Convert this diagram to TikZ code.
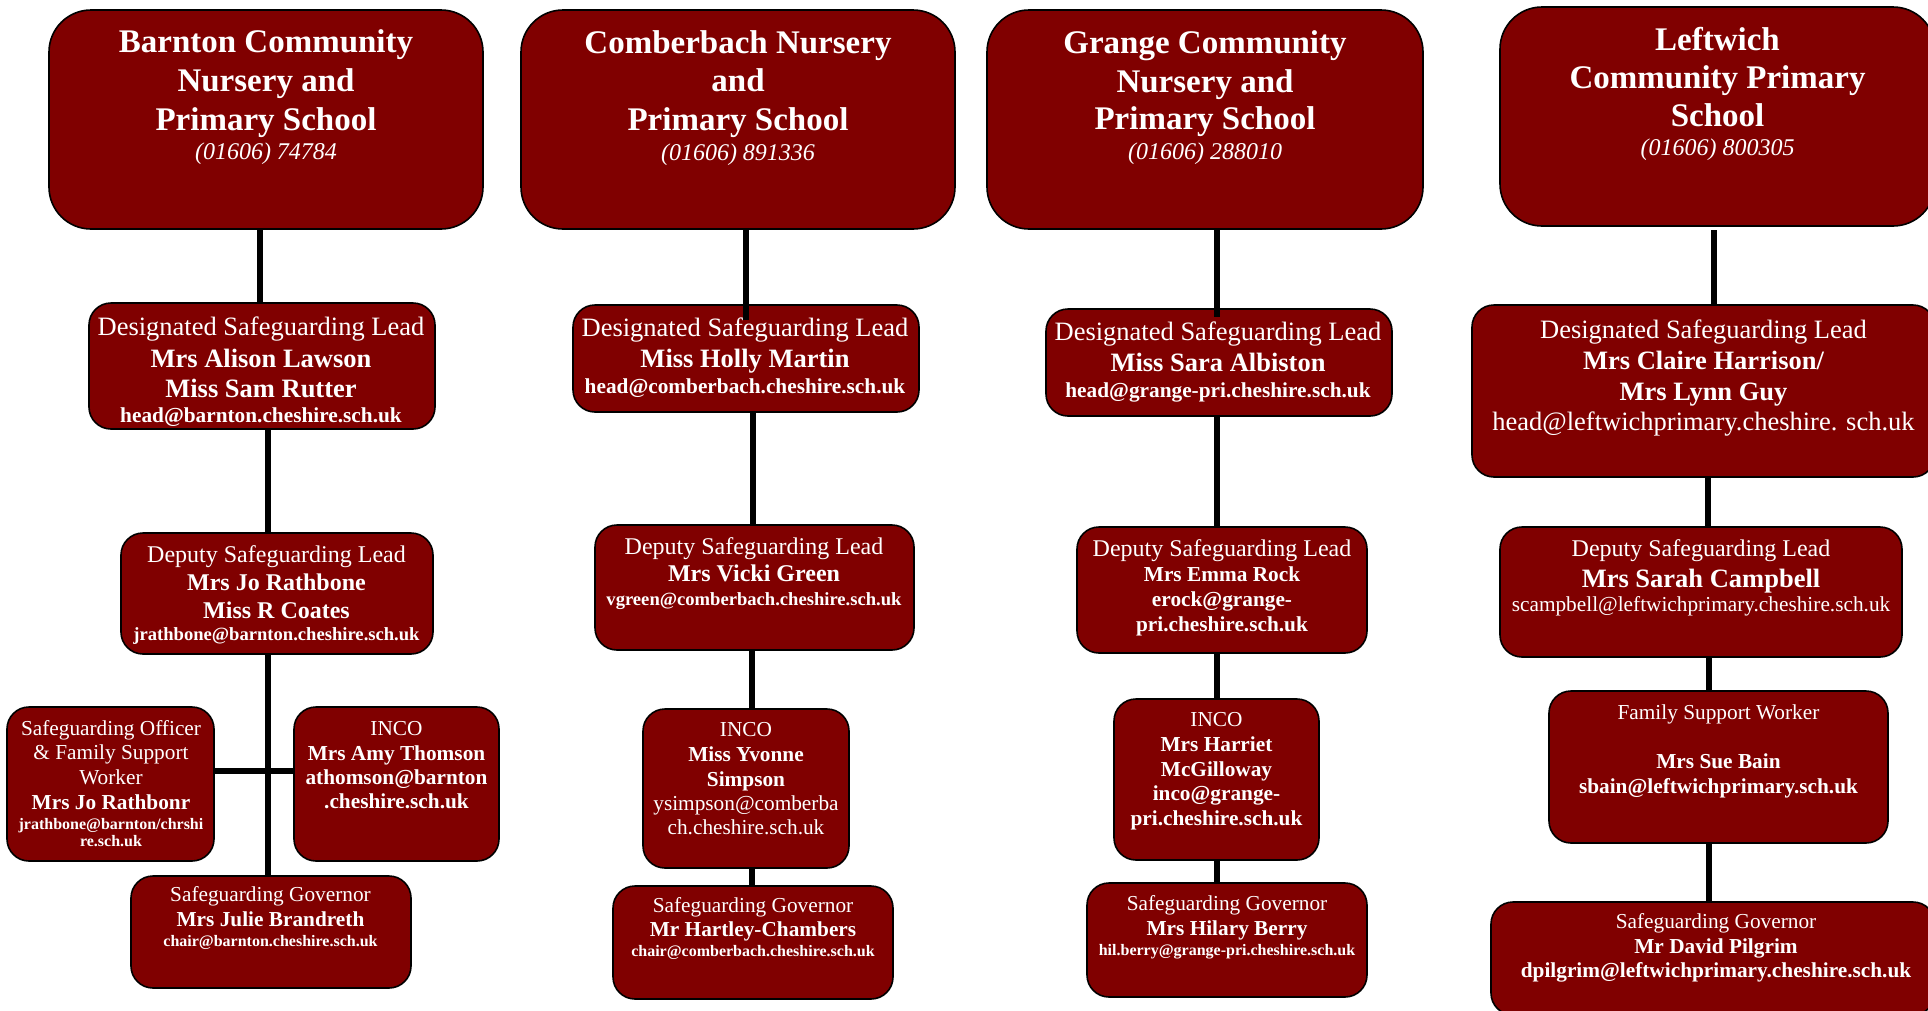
\documentclass[tikz,border=0pt]{standalone}
\usepackage{fontspec}
\setmainfont{Liberation Serif}
\definecolor{boxred}{RGB}{128,0,0}
\tikzset{
  box/.style={draw=black, line width=1.6pt, fill=boxred, rounded corners=22pt,
    inner sep=0pt, outer sep=0pt, anchor=north west},
  bigbox/.style={box, rounded corners=42pt},
  conn/.style={draw=black, line width=6pt},
  txt/.style={text=white, anchor=base, inner sep=0pt, outer sep=0pt},
  ttl/.style={txt, font=\fontsize{33}{40}\selectfont\bfseries},
  ph/.style={txt, font=\fontsize{24}{29}\selectfont\itshape},
  rA/.style={txt, font=\fontsize{26.5}{32}\selectfont},
  bA/.style={txt, font=\fontsize{26.5}{32}\selectfont\bfseries},
  rB/.style={txt, font=\fontsize{24}{29}\selectfont},
  bB/.style={txt, font=\fontsize{24}{29}\selectfont\bfseries},
  rC/.style={txt, font=\fontsize{21.3}{26}\selectfont},
  bC/.style={txt, font=\fontsize{21.3}{26}\selectfont\bfseries},
  eD/.style={txt, font=\fontsize{18.6}{22}\selectfont\bfseries},
  eE/.style={txt, font=\fontsize{16}{19}\selectfont\bfseries},
}
\newcommand\tx[5]{\node[#1] (#2) at (#3,#4) {#5};}
\begin{document}
\begin{tikzpicture}[x=1pt,y=-1pt]
\fill[white] (0,0) rectangle (1928,1010);
\useasboundingbox (0,0) rectangle (1928,1010);

% ---------- boxes ----------
% column 1
\node[bigbox, minimum width=434pt, minimum height=219pt] (c1t) at (49,10) {};
\node[box, minimum width=346pt, minimum height=126pt] (c1d) at (89,303) {};
\node[box, minimum width=312pt, minimum height=121pt] (c1p) at (121,533) {};
\node[box, minimum width=207pt, minimum height=154pt] (c1s) at (7,707) {};
\node[box, minimum width=205pt, minimum height=154pt] (c1i) at (294,707) {};
\node[box, minimum width=280pt, minimum height=112pt] (c1g) at (131,876) {};
% column 2
\node[bigbox, minimum width=434pt, minimum height=219pt] (c2t) at (521,10) {};
\node[box, minimum width=346pt, minimum height=107pt] (c2d) at (573,305) {};
\node[box, minimum width=319pt, minimum height=125pt] (c2p) at (595,525) {};
\node[box, minimum width=206pt, minimum height=159pt] (c2i) at (643,709) {};
\node[box, minimum width=280pt, minimum height=113pt] (c2g) at (613,886) {};
% column 3
\node[bigbox, minimum width=436pt, minimum height=219pt] (c3t) at (987,10) {};
\node[box, minimum width=346pt, minimum height=107pt] (c3d) at (1046,309) {};
\node[box, minimum width=290pt, minimum height=126pt] (c3p) at (1077,527) {};
\node[box, minimum width=205pt, minimum height=161pt] (c3i) at (1114,699) {};
\node[box, minimum width=280pt, minimum height=114pt] (c3g) at (1087,883) {};
% column 4
\node[bigbox, minimum width=435pt, minimum height=219pt] (c4t) at (1500,7) {};
\node[box, minimum width=463pt, minimum height=172pt] (c4d) at (1472,305) {};
\node[box, minimum width=402pt, minimum height=130pt] (c4p) at (1500,527) {};
\node[box, minimum width=339pt, minimum height=152pt] (c4f) at (1549,691) {};
\node[box, minimum width=444pt, minimum height=113pt] (c4g) at (1491,902) {};

% ---------- connectors ----------
% column 1
\draw[conn] ([xshift=-6pt]c1t.south) -- ([xshift=-6pt]c1t.south |- c1d.north);
\draw[conn] ([xshift=6pt]c1d.south) -- ([xshift=6pt]c1d.south |- c1p.north);
\draw[conn] ([xshift=-9pt]c1p.south) -- ([xshift=-9pt]c1p.south |- c1g.north);
\draw[conn] ([yshift=13pt]c1s.east) -- ([yshift=13pt]c1s.east -| c1i.west);
% column 2
\coordinate (k2a) at ([xshift=8pt]c2t.south);
\draw[conn] (k2a) -- (k2a |- c2d.north) -- ++(0,15);
\draw[conn] ([xshift=7pt]c2d.south) -- ([xshift=7pt]c2d.south |- c2p.north);
\draw[conn] ([xshift=-2.5pt]c2p.south) -- ([xshift=-2.5pt]c2p.south |- c2i.north);
\draw[conn] ([xshift=6pt]c2i.south) -- ([xshift=6pt]c2i.south |- c2g.north);
% column 3
\coordinate (k3a) at ([xshift=12pt]c3t.south);
\draw[conn] (k3a) -- (k3a |- c3d.north) -- ++(0,8);
\draw[conn] ([xshift=-2pt]c3d.south) -- ([xshift=-2pt]c3d.south |- c3p.north);
\draw[conn] ([xshift=-5pt]c3p.south) -- ([xshift=-5pt]c3p.south |- c3i.north);
\draw[conn] ([xshift=0.5pt]c3i.south) -- ([xshift=0.5pt]c3i.south |- c3g.north);
% column 4
\draw[conn] ([xshift=-3.5pt,yshift=-4pt]c4t.south) -- ([xshift=-3.5pt]c4t.south |- c4d.north);
\draw[conn] ([xshift=4.5pt]c4d.south) -- ([xshift=4.5pt]c4d.south |- c4p.north);
\draw[conn] ([xshift=8pt]c4p.south) -- ([xshift=8pt]c4p.south |- c4f.north);
\draw[conn] ([xshift=-9.5pt]c4f.south) -- ([xshift=-9.5pt]c4f.south |- c4g.north);

% ---------- texts ----------
% column 1
\tx{ttl}{c1ta}{266}{52.7}{Barnton Community}
\tx{ttl}{c1tb}{266}{91.7}{Nursery and}
\tx{ttl}{c1tc}{266}{130}{Primary School}
\tx{ph}{c1td}{266}{159.3}{(01606) 74784}
\tx{rA}{c1da}{261}{335}{Designated Safeguarding Lead}
\tx{bA}{c1db}{261}{367}{Mrs Alison Lawson}
\tx{bA}{c1dc}{261}{397}{Miss Sam Rutter}
\tx{bC}{c1dd}{261}{422}{head@barnton.cheshire.sch.uk}
\tx{rB}{c1pa}{276.5}{562.7}{Deputy Safeguarding Lead}
\tx{bB}{c1pb}{276.5}{590}{Mrs Jo Rathbone}
\tx{bB}{c1pc}{276.5}{618}{Miss R Coates}
\tx{eD}{c1pd}{276.5}{640.7}{jrathbone@barnton.cheshire.sch.uk}
\tx{rC}{c1sa}{111}{735}{Safeguarding Officer}
\tx{rC}{c1sb}{111}{759.3}{\& Family Support}
\tx{rC}{c1sc}{111}{784}{Worker}
\tx{bC}{c1sd}{111}{809.3}{Mrs Jo Rathbonr}
\tx{eE}{c1se}{111}{829.3}{jrathbone@barnton/chrshi}
\tx{eE}{c1sf}{111}{846.7}{re.sch.uk}
\tx{rC}{c1ia}{396.5}{735}{INCO}
\tx{bC}{c1ib}{396.5}{760}{Mrs Amy Thomson}
\tx{bC}{c1ic}{396.5}{784}{athomson@barnton}
\tx{bC}{c1id}{396.5}{808.3}{.cheshire.sch.uk}
\tx{rC}{c1ga}{270.5}{901.7}{Safeguarding Governor}
\tx{bC}{c1gb}{270.5}{926.7}{Mrs Julie Brandreth}
\tx{eE}{c1gc}{270.5}{946.7}{chair@barnton.cheshire.sch.uk}
% column 2
\tx{ttl}{c2ta}{738}{53.3}{Comberbach Nursery}
\tx{ttl}{c2tb}{738}{91.7}{and}
\tx{ttl}{c2tc}{738}{130}{Primary School}
\tx{ph}{c2td}{738}{160}{(01606) 891336}
\tx{rA}{c2da}{745}{336}{Designated Safeguarding Lead}
\tx{bA}{c2db}{745}{367}{Miss Holly Martin}
\tx{bC}{c2dc}{745}{393}{head@comberbach.cheshire.sch.uk}
\tx{rB}{c2pa}{754}{554}{Deputy Safeguarding Lead}
\tx{bB}{c2pb}{754}{581.7}{Mrs Vicki Green}
\tx{eD}{c2pc}{754}{605}{vgreen@comberbach.cheshire.sch.uk}
\tx{rC}{c2ia}{746}{736.7}{INCO}
\tx{bC}{c2ib}{746}{761.7}{Miss Yvonne}
\tx{bC}{c2ic}{746}{786}{Simpson}
\tx{rC}{c2id}{746}{810}{ysimpson@comberba}
\tx{rC}{c2ie}{746}{834}{ch.cheshire.sch.uk}
\tx{rC}{c2ga}{753}{912.7}{Safeguarding Governor}
\tx{bC}{c2gb}{753}{936.7}{Mr Hartley-Chambers}
\tx{eE}{c2gc}{753}{956.7}{chair@comberbach.cheshire.sch.uk}
% column 3
\tx{ttl}{c3ta}{1205}{53}{Grange Community}
\tx{ttl}{c3tb}{1205}{92}{Nursery and}
\tx{ttl}{c3tc}{1205}{129.5}{Primary School}
\tx{ph}{c3td}{1205}{159}{(01606) 288010}
\tx{rA}{c3da}{1218}{340}{Designated Safeguarding Lead}
\tx{bA}{c3db}{1218}{371}{Miss Sara Albiston}
\tx{bC}{c3dc}{1218}{397}{head@grange-pri.cheshire.sch.uk}
\tx{rB}{c3pa}{1222}{556}{Deputy Safeguarding Lead}
\tx{bC}{c3pb}{1222}{581.7}{Mrs Emma Rock}
\tx{bC}{c3pc}{1222}{606.7}{erock@grange-}
\tx{bC}{c3pd}{1222}{631.7}{pri.cheshire.sch.uk}
\tx{rC}{c3ia}{1216.5}{726.7}{INCO}
\tx{bC}{c3ib}{1216.5}{751.7}{Mrs Harriet}
\tx{bC}{c3ic}{1216.5}{776.7}{McGilloway}
\tx{bC}{c3id}{1216.5}{800.7}{inco@grange-}
\tx{bC}{c3ie}{1216.5}{825}{pri.cheshire.sch.uk}
\tx{rC}{c3ga}{1227}{910}{Safeguarding Governor}
\tx{bC}{c3gb}{1227}{935}{Mrs Hilary Berry}
\tx{eE}{c3gc}{1227}{955}{hil.berry@grange-pri.cheshire.sch.uk}
% column 4
\tx{ttl}{c4ta}{1717.5}{50}{Leftwich}
\tx{ttl}{c4tb}{1717.5}{88}{Community Primary}
\tx{ttl}{c4tc}{1717.5}{126}{School}
\tx{ph}{c4td}{1717.5}{155}{(01606) 800305}
\tx{rA}{c4da}{1703.5}{338}{Designated Safeguarding Lead}
\tx{bA}{c4db}{1703.5}{369}{Mrs Claire Harrison/}
\tx{bA}{c4dc}{1703.5}{400}{Mrs Lynn Guy}
\tx{rA}{c4dd}{1703.5}{430}{head@leftwichprimary.cheshire. sch.uk}
\tx{rB}{c4pa}{1701}{556.7}{Deputy Safeguarding Lead}
\tx{bA}{c4pb}{1701}{587.3}{Mrs Sarah Campbell}
\tx{rC}{c4pc}{1701}{611.7}{scampbell@leftwichprimary.cheshire.sch.uk}
\tx{rC}{c4fa}{1718.5}{719.3}{Family Support Worker}
\tx{bC}{c4fb}{1718.5}{768.3}{Mrs Sue Bain}
\tx{bC}{c4fc}{1718.5}{793.3}{sbain@leftwichprimary.sch.uk}
\tx{rC}{c4ga}{1716}{928.3}{Safeguarding Governor}
\tx{bC}{c4gb}{1716}{953.3}{Mr David Pilgrim}
\tx{bC}{c4gc}{1716}{977.3}{dpilgrim@leftwichprimary.cheshire.sch.uk}
\end{tikzpicture}
\end{document}
